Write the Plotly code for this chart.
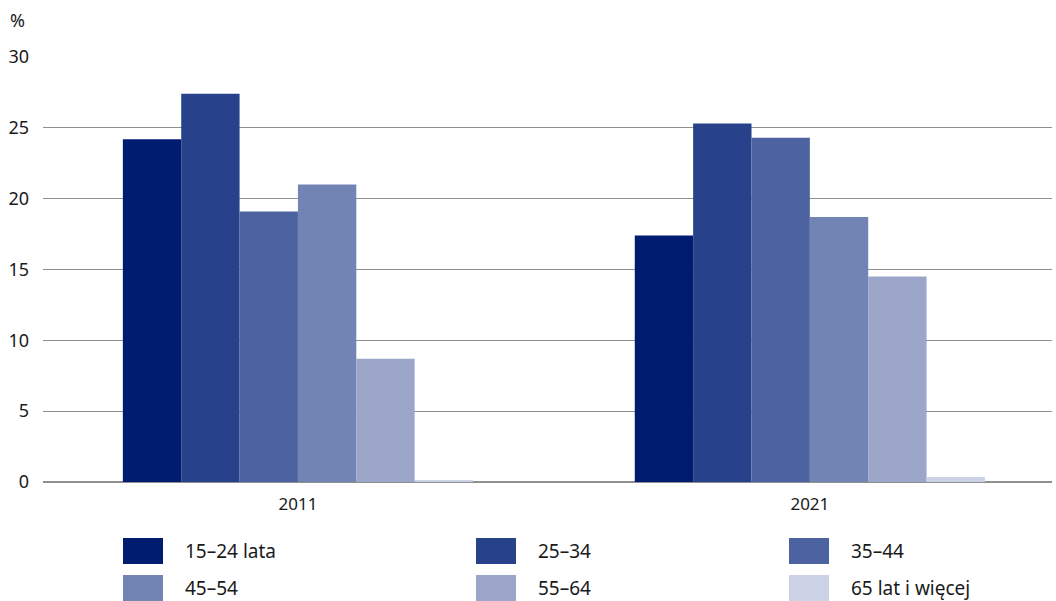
import plotly.graph_objects as go

years = ["2011", "2021"]
groups = ["15–24 lata", "25–34", "35–44", "45–54", "55–64", "65 lat i więcej"]
values = {
    "15–24 lata": [24.2, 17.4],
    "25–34": [27.4, 25.3],
    "35–44": [19.1, 24.3],
    "45–54": [21.0, 18.7],
    "55–64": [8.7, 14.5],
    "65 lat i więcej": [0.1, 0.35],
}
colors = ["#001c71", "#27418b", "#4d62a0", "#7284b4", "#9ba6c9", "#ccd2e5"]
y_ticks = [0, 5, 10, 15, 20, 25, 30]

W, H = 1056, 601
ml, mr, mt, mb = 43, 4, 57, 119

fig = go.Figure()
for g, c in zip(groups, colors):
    fig.add_trace(go.Bar(x=years, y=values[g], name=g, marker=dict(color=c, line=dict(width=0)),
                         showlegend=False))

# custom legend
pw = W - ml - mr
ph = H - mt - mb
col_x = [123, 476, 789]
row_y = [551, 588]
for i, (g, c) in enumerate(zip(groups, colors)):
    cx = col_x[i % 3]
    cy = row_y[i // 3]
    x0 = (cx - ml) / pw
    x1 = (cx + 40 - ml) / pw
    y0 = (H - mb - (cy + 13)) / ph
    y1 = (H - mb - (cy - 13)) / ph
    fig.add_shape(type="rect", xref="paper", yref="paper", x0=x0, x1=x1, y0=y0, y1=y1,
                  fillcolor=c, line=dict(width=0))
    fig.add_annotation(xref="paper", yref="paper", x=(cx + 60 - ml) / pw, y=(H - mb - cy) / ph,
                       text=g, showarrow=False, xanchor="left", yanchor="middle",
                       font=dict(size=19, color="#1a1a1a"))

fig.add_annotation(xref="paper", yref="paper", x=(8 - ml) / pw, y=(H - mb - 20) / ph,
                   text="%", showarrow=False, xanchor="left", yanchor="middle",
                   font=dict(size=18, color="#1a1a1a"))

fig.update_layout(
    width=W, height=H,
    margin=dict(l=ml, r=mr, t=mt, b=mb),
    plot_bgcolor="white", paper_bgcolor="white",
    barmode="group", bargap=0.316, bargroupgap=0,
    font=dict(family="Noto Sans, sans-serif", size=17, color="#1a1a1a"),
    xaxis=dict(type="category", range=[-0.498, 1.473], showgrid=False, showline=False,
               ticks="", tickfont=dict(size=17), ticklabelstandoff=10),
    yaxis=dict(range=[0, 30], tickvals=y_ticks, showgrid=True, gridcolor="#8f8f8f", gridwidth=1,
               zeroline=True, zerolinecolor="#8f8f8f", zerolinewidth=1.5, ticks="",
               ticklabelstandoff=13, showline=False, tickfont=dict(size=18)),
)

fig.write_html("out.html", config={"displayModeBar": False},
               post_script="document.body.style.margin='0px';document.body.style.overflow='hidden';")
